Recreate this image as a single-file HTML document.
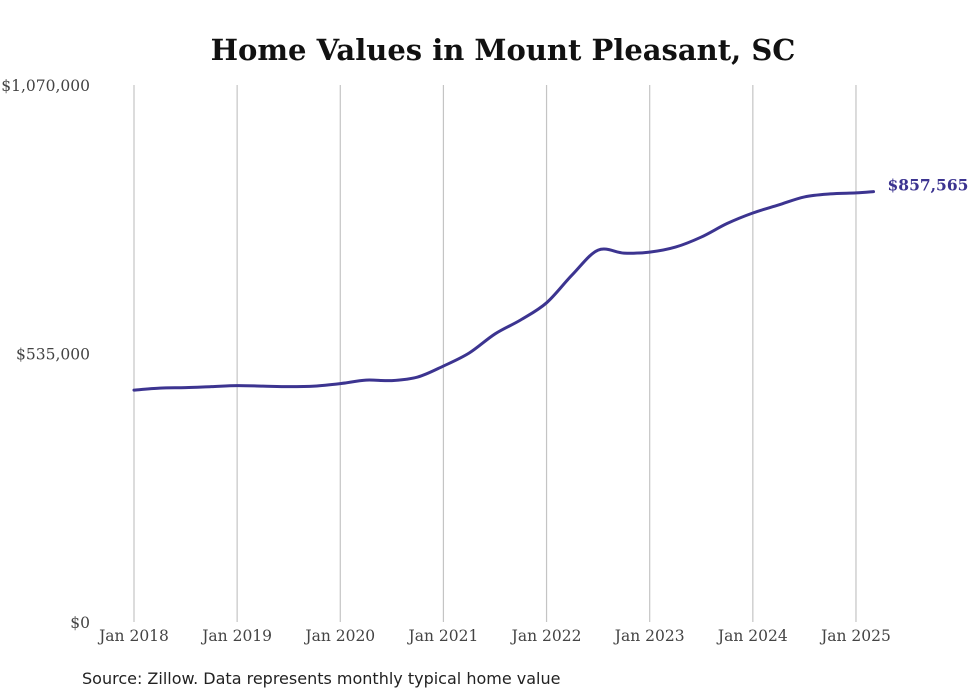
<!DOCTYPE html>
<html><head><meta charset="utf-8"><style>
body{margin:0;background:#fff;}
svg{display:block;}
</style></head><body>
<svg width="980" height="699" viewBox="0 0 980 699" xmlns="http://www.w3.org/2000/svg">
<text x="503" y="60" text-anchor="middle" font-family="DejaVu Serif, Liberation Serif, serif" font-weight="bold" font-size="29" fill="#111">Home Values in Mount Pleasant, SC</text>
<g id="grid"></g><g id="yax"></g><g id="xax"></g><g id="series"></g>
<text x="82" y="684" font-family="DejaVu Sans, Liberation Sans, sans-serif" font-size="16" fill="#222">Source: Zillow. Data represents monthly typical home value</text>
</svg>
<script>
const xTickYears=[2018,2019,2020,2021,2022,2023,2024,2025];
const xTickLabels=["Jan 2018","Jan 2019","Jan 2020","Jan 2021","Jan 2022","Jan 2023","Jan 2024","Jan 2025"];
const yTickValues=[0,535000,1070000];
const yTickLabels=["$0","$535,000","$1,070,000"];
const dates=[2018,2018.25,2018.5,2018.75,2019,2019.25,2019.5,2019.75,2020,2020.25,2020.5,2020.75,2021,2021.25,2021.5,2021.75,2022,2022.25,2022.5,2022.75,2023,2023.25,2023.5,2023.75,2024,2024.25,2024.5,2024.75,2025,2025.17];
const values=[462000,466000,467000,469000,471000,470000,469000,470000,475000,482000,481000,488000,510000,536000,574000,602000,636000,692000,741000,735000,737000,747000,767000,794000,815000,831000,847000,853000,855000,857565];
const lastLabel="$857,565";
const NS="http://www.w3.org/2000/svg";
const x=d=>134+(d-2018)*103.14;
const y=v=>622-v/1070000*537;
function mk(t,a,p){const e=document.createElementNS(NS,t);for(const k in a)e.setAttribute(k,a[k]);p.appendChild(e);return e;}
const grid=document.getElementById('grid'),xax=document.getElementById('xax'),yax=document.getElementById('yax'),ser=document.getElementById('series');
xTickYears.forEach((yr,i)=>{
 const l=mk('line',{x1:x(yr),x2:x(yr),y1:85,y2:622,stroke:'#c4c4c4','stroke-width':1.2},grid);
 
 
 const t=mk('text',{x:x(yr),y:641,'text-anchor':'middle','font-family':'DejaVu Serif, Liberation Serif, serif','font-size':15.5,fill:'#444'},xax);
 t.textContent=xTickLabels[i];
 
 
});
yTickValues.forEach((v,i)=>{
 const t=mk('text',{x:90,y:y(v)+6,'text-anchor':'end','font-family':'DejaVu Serif, Liberation Serif, serif','font-size':15.5,fill:'#444'},yax);
 t.textContent=yTickLabels[i];
 
 
});
const P=dates.map((d,i)=>[x(d),y(values[i])]);
let dstr='M'+P[0][0]+','+P[0][1];
for(let i=0;i<P.length-1;i++){
 const p0=P[Math.max(0,i-1)],p1=P[i],p2=P[i+1],p3=P[Math.min(P.length-1,i+2)];
 const c1=[p1[0]+(p2[0]-p0[0])/6,p1[1]+(p2[1]-p0[1])/6],c2=[p2[0]-(p3[0]-p1[0])/6,p2[1]-(p3[1]-p1[1])/6];
 dstr+=' C'+c1+' '+c2+' '+p2;
}
const path=mk('path',{d:dstr,fill:'none',stroke:'#3c3490','stroke-width':3,'stroke-linecap':'round'},ser);


const last=P[P.length-1];
const lt=mk('text',{x:last[0]+14,y:last[1]-1,'font-family':'DejaVu Serif, Liberation Serif, serif','font-weight':'bold','font-size':15.5,fill:'#3c3490'},ser);
lt.textContent=lastLabel;


</script>
</body></html>
